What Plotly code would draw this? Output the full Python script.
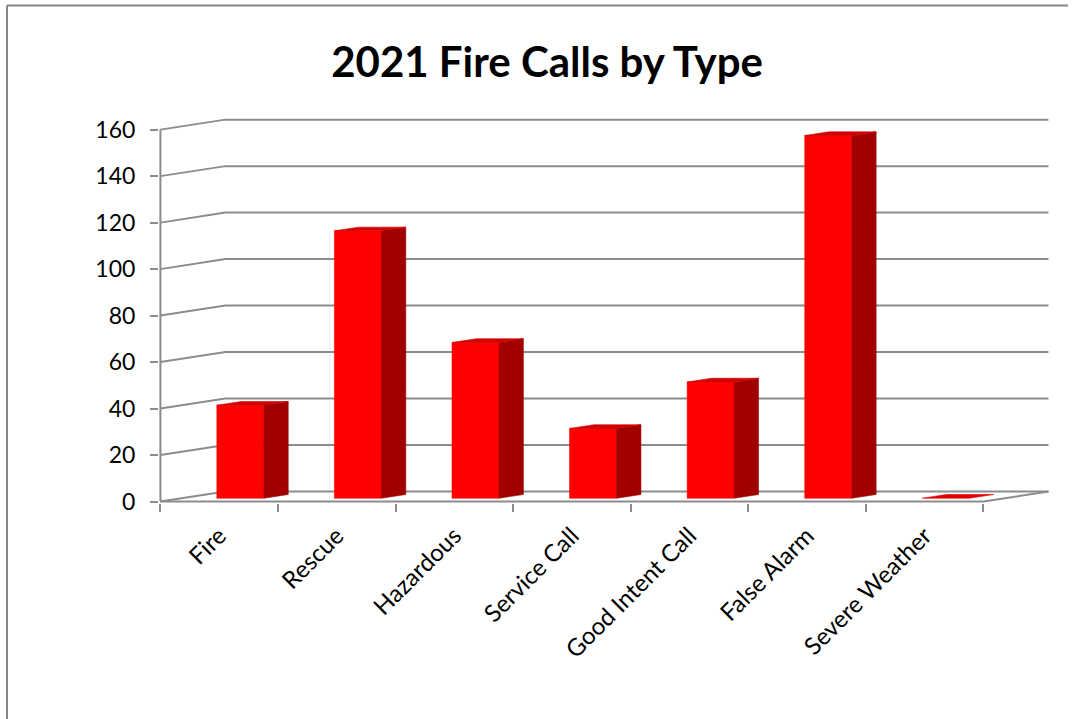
import plotly.graph_objects as go

# ---- data ----
categories = ["Fire", "Rescue", "Hazardous", "Service Call",
              "Good Intent Call", "False Alarm", "Severe Weather"]
calls = [40, 115, 67, 30, 50, 156, 0]
y_ticks = [0, 20, 40, 60, 80, 100, 120, 140, 160]

# ---- styling / pseudo-3D geometry (in axis units) ----
GRID = "#8c8c8c"
FRONT = "#ff0000"
SIDE = "#a00000"
TOP = "#d20000"
WALL_DX, WALL_DY = 0.553, 4.3     # depth offset of the back wall
BAR_SX, BAR_SY = 0.18, 1.46       # bar front face sits a little into the floor
BAR_DX, BAR_DY = 0.207, 1.6       # bar depth
BAR_W = 0.40
FONT = "Lato"

W, H = 1078, 719
ML, MR, MT, MB = 159, 24, 118, 216
X_RANGE = [-0.012, 7.6]
Y_RANGE = [-0.6, 165]

n = len(categories)
fig = go.Figure()


def poly(xs, ys, color):
    fig.add_trace(go.Scatter(
        x=xs + [xs[0]], y=ys + [ys[0]], mode="lines", fill="toself",
        fillcolor=color, line=dict(color=color, width=0.6),
        hoverinfo="skip", showlegend=False))


def line(xs, ys):
    fig.add_trace(go.Scatter(
        x=xs, y=ys, mode="lines", line=dict(color=GRID, width=2),
        hoverinfo="skip", showlegend=False))


# back-wall gridlines with their side-wall diagonals
for v in y_ticks:
    line([0, WALL_DX, n + WALL_DX], [v, v + WALL_DY, v + WALL_DY])

# floor edges and front value axis
line([0, n, n + WALL_DX], [0, 0, WALL_DY])
line([0, 0], [0, y_ticks[-1]])

# bars: front, side and top faces
for i, v in enumerate(calls):
    x0 = i + 0.5 - BAR_W / 2 + BAR_SX
    x1 = x0 + BAR_W
    b = BAR_SY
    t = BAR_SY + v
    if v > 0:
        poly([x0, x1, x1, x0], [b, b, t, t], FRONT)
        poly([x1, x1 + BAR_DX, x1 + BAR_DX, x1],
             [b, b + BAR_DY, t + BAR_DY, t], SIDE)
    poly([x0, x1, x1 + BAR_DX, x0 + BAR_DX],
         [t, t, t + BAR_DY, t + BAR_DY], TOP if v > 0 else "#e00000")

fig.update_layout(
    width=W, height=H,
    margin=dict(l=ML, r=MR, t=MT, b=MB, pad=0),
    paper_bgcolor="white", plot_bgcolor="white",
    showlegend=False,
    title=dict(text="2021 Fire Calls by Type", x=0.5075, y=1 - 62 / H,
               xanchor="center", yanchor="middle",
               font=dict(family=FONT, size=42, color="black", weight="bold")),
    font=dict(family=FONT, color="black"),
    xaxis=dict(range=X_RANGE, showgrid=False, zeroline=False, showline=False,
               tickmode="array", tickvals=[i + 0.5 for i in range(n)],
               ticktext=categories, tickangle=-45, ticks="",
               ticklabelstandoff=13,
               tickfont=dict(size=24, family=FONT, color="black"),
               minor=dict(tickmode="array", tickvals=list(range(n + 1)),
                          ticks="outside", ticklen=8, tickwidth=2,
                          tickcolor=GRID, showgrid=False),
               fixedrange=True),
    yaxis=dict(range=Y_RANGE, showgrid=False, zeroline=False, showline=False,
               tickmode="array", tickvals=y_ticks,
               ticks="outside", ticklen=8, tickwidth=2, tickcolor=GRID,
               ticklabelstandoff=10,
               tickfont=dict(size=23, family=FONT, color="black"),
               fixedrange=True),
)

# outer chart frame (top and left edges)
pw = W - ML - MR
ph = H - MT - MB


def px_x(p):
    return (p - ML) / pw


def px_y(p):
    return 1 - (p - MT) / ph


frame = dict(color="#868686", width=2)
fig.add_shape(type="line", xref="paper", yref="paper",
              x0=px_x(7), x1=px_x(1068), y0=px_y(5.5), y1=px_y(5.5), line=frame)
fig.add_shape(type="line", xref="paper", yref="paper",
              x0=px_x(7), x1=px_x(7), y0=px_y(5.5), y1=px_y(730), line=frame)

fig.write_html("out.html")
